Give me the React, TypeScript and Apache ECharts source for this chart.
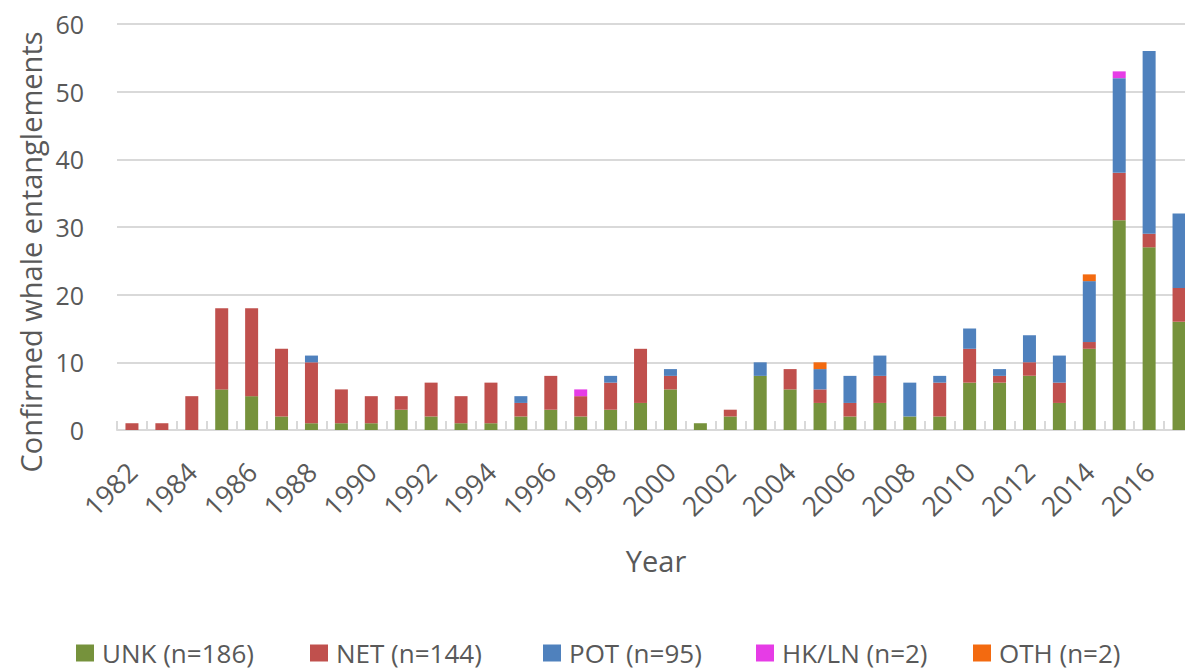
import React, { useEffect, useRef } from "react";
import * as echarts from "echarts";

const years = [
  "1982", "1983", "1984", "1985", "1986", "1987", "1988", "1989", "1990", "1991",
  "1992", "1993", "1994", "1995", "1996", "1997", "1998", "1999", "2000", "2001",
  "2002", "2003", "2004", "2005", "2006", "2007", "2008", "2009", "2010", "2011",
  "2012", "2013", "2014", "2015", "2016", "2017",
];

const unk = [0, 0, 0, 6, 5, 2, 1, 1, 1, 3, 2, 1, 1, 2, 3, 2, 3, 4, 6, 1, 2, 8, 6, 4, 2, 4, 2, 2, 7, 7, 8, 4, 12, 31, 27, 16];
const net = [1, 1, 5, 12, 13, 10, 9, 5, 4, 2, 5, 4, 6, 2, 5, 3, 4, 8, 2, 0, 1, 0, 3, 2, 2, 4, 0, 5, 5, 1, 2, 3, 1, 7, 2, 5];
const pot = [0, 0, 0, 0, 0, 0, 1, 0, 0, 0, 0, 0, 0, 1, 0, 0, 1, 0, 1, 0, 0, 2, 0, 3, 4, 3, 5, 1, 3, 1, 4, 4, 9, 14, 27, 11];
const hkln = [0, 0, 0, 0, 0, 0, 0, 0, 0, 0, 0, 0, 0, 0, 0, 1, 0, 0, 0, 0, 0, 0, 0, 0, 0, 0, 0, 0, 0, 0, 0, 0, 0, 1, 0, 0];
const oth = [0, 0, 0, 0, 0, 0, 0, 0, 0, 0, 0, 0, 0, 0, 0, 0, 0, 0, 0, 0, 0, 0, 0, 1, 0, 0, 0, 0, 0, 0, 0, 0, 1, 0, 0, 0];

const seriesNames = ["UNK (n=186)", "NET (n=144)", "POT (n=95)", "HK/LN (n=2)", "OTH (n=2)"];
const seriesColors = ["#76923C", "#C0504D", "#4F81BD", "#E63CE6", "#F36A10"];
const legendLefts = [76, 310, 543, 756, 973];

const yTicks = { min: 0, max: 60, interval: 10 };

const FONT = "'Open Sans', sans-serif";
const TEXT = "#595959";

export default function App() {
  const ref = useRef<HTMLDivElement>(null);

  useEffect(() => {
    if (!ref.current) return;
    const chart = echarts.init(ref.current, undefined, { renderer: "svg" });
    const data = [unk, net, pot, hkln, oth];
    chart.setOption({
      animation: false,
      textStyle: { fontFamily: FONT, color: TEXT },
      grid: { left: 117, right: 6, top: 24, height: 406 },
      legend: seriesNames.map((name, i) => ({
        data: [name],
        left: legendLefts[i],
        top: 637,
        padding: 0,
        icon: "rect",
        itemWidth: 18,
        itemHeight: 17,
        textStyle: { fontFamily: FONT, fontSize: 26, lineHeight: 32, color: TEXT, padding: [0, 0, 0, 3] },
      })),
      xAxis: {
        type: "category",
        data: years,
        axisLine: { lineStyle: { color: "#d9d9d9", width: 2 } },
        axisTick: { show: true, inside: true, length: 9, alignWithLabel: false, interval: 0, lineStyle: { color: "#d9d9d9", width: 2 } },
        axisLabel: {
          interval: 1,
          rotate: 45,
          margin: 37,
          fontSize: 27,
          fontFamily: FONT,
          color: TEXT,
        },
      },
      yAxis: {
        type: "value",
        min: yTicks.min,
        max: yTicks.max,
        interval: yTicks.interval,
        axisLine: { show: false },
        axisTick: { show: false },
        axisLabel: { fontSize: 25, fontFamily: FONT, color: TEXT, margin: 33 },
        splitLine: { lineStyle: { color: "#d9d9d9", width: 2 } },
      },
      graphic: [
        {
          type: "text",
          x: 30,
          y: 252,
          rotation: Math.PI / 2,
          style: {
            text: "Confirmed whale entanglements",
            fontFamily: FONT,
            fontSize: 29,
            fill: TEXT,
            align: "center",
            verticalAlign: "middle",
          },
        },
        {
          type: "text",
          x: 656,
          y: 560,
          style: {
            text: "Year",
            fontFamily: FONT,
            fontSize: 29,
            fill: TEXT,
            align: "center",
            verticalAlign: "middle",
          },
        },
      ],
      series: seriesNames.map((name, i) => ({
        name,
        type: "bar",
        stack: "total",
        barWidth: 13,
        data: data[i].map((v) => (v === 0 ? null : v)),
        itemStyle: { color: seriesColors[i] },
      })),
    });
    return () => chart.dispose();
  }, []);

  return (
    <div style={{ position: "fixed", left: 0, top: 0, width: 1185, height: 670, overflow: "hidden", background: "#fff" }}>
      <div ref={ref} style={{ width: 1200, height: 670 }} />
    </div>
  );
}
